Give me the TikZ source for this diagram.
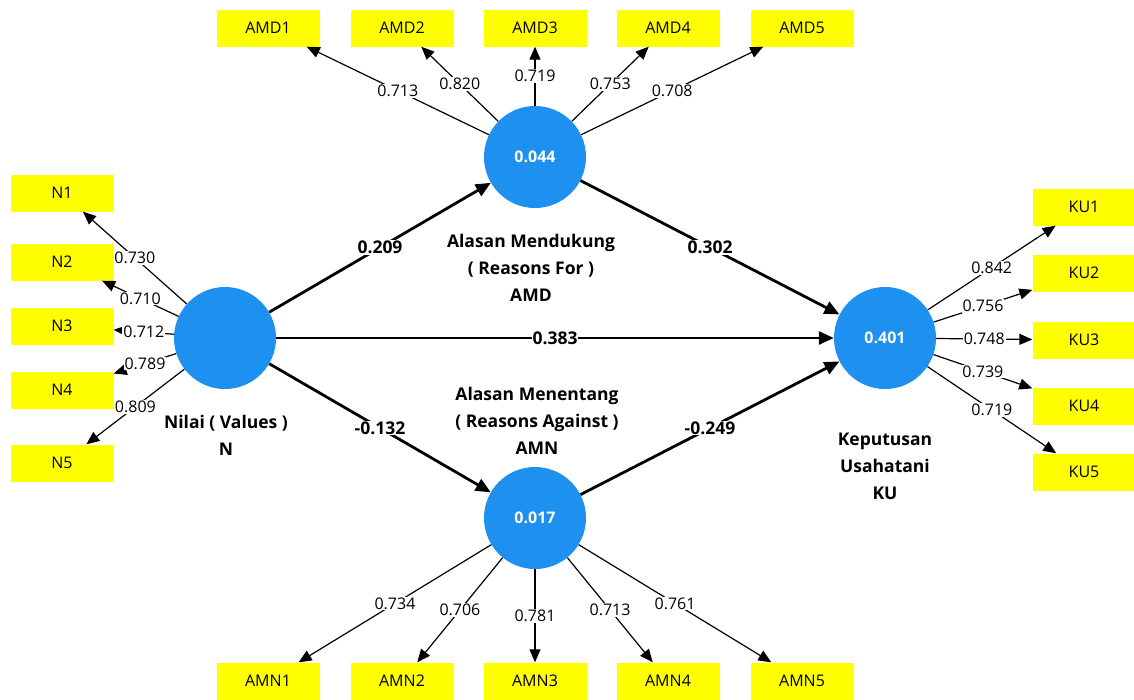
\documentclass[tikz,border=0pt]{standalone}
\usepackage{fontspec}
\setmainfont{Open Sans}
\usetikzlibrary{arrows.meta}
\definecolor{lvblue}{RGB}{30,144,240}
\definecolor{mvyellow}{RGB}{255,255,0}

\begin{document}
\begin{tikzpicture}[x=1pt,y=-1pt,
  lv/.style={circle,fill=lvblue,minimum size=102pt,inner sep=0pt,text=white,font=\bfseries\fontsize{16}{18}\selectfont},
  mv/.style={fill=mvyellow,minimum width=103pt,minimum height=37pt,inner sep=0pt,font=\fontsize{16}{18}\selectfont},
  lvname/.style={align=center,font=\bfseries\fontsize{17.5}{27}\selectfont},
  load/.style={-{Triangle[length=13pt,width=11pt]},line width=1.2pt},
  path/.style={-{Triangle[length=15pt,width=13pt]},line width=2.8pt},
  val/.style={fill=white,inner sep=1pt,font=\fontsize{16}{18}\selectfont},
  coef/.style={fill=white,inner sep=1pt,font=\bfseries\fontsize{17.5}{19}\selectfont}]
\useasboundingbox (0,0) rectangle (1134,699);

% latent variables
\node[lv] (N) at (225,338) {};
\node[lv] (AMD) at (535,157) {0.044};
\node[lv] (AMN) at (535,518) {0.017};
\node[lv] (KU) at (885,338) {0.401};

\node[lvname] (Ntxt) at (226,435) {Nilai ( Values )\\N};
\node[lvname] (AMDtxt) at (531,268) {Alasan Mendukung\\( Reasons For )\\AMD};
\node[lvname] (AMNtxt) at (537,421) {Alasan Menentang\\( Reasons Against )\\AMN};
\node[lvname] (KUtxt) at (885,466) {Keputusan\\Usahatani\\KU};

% indicators
\node[mv] (n1) at (62,193) {N1};
\node[mv] (n2) at (62,262) {N2};
\node[mv] (n3) at (62,326) {N3};
\node[mv] (n4) at (62,390) {N4};
\node[mv] (n5) at (62,463) {N5};

\node[mv] (amd1) at (268,28) {AMD1};
\node[mv] (amd2) at (402,28) {AMD2};
\node[mv] (amd3) at (535,28) {AMD3};
\node[mv] (amd4) at (668,28) {AMD4};
\node[mv] (amd5) at (802,28) {AMD5};

\node[mv] (amn1) at (268,681) {AMN1};
\node[mv] (amn2) at (402,681) {AMN2};
\node[mv] (amn3) at (535,681) {AMN3};
\node[mv] (amn4) at (668,681) {AMN4};
\node[mv] (amn5) at (802,681) {AMN5};

\node[mv] (ku1) at (1084,207) {KU1};
\node[mv] (ku2) at (1084,273) {KU2};
\node[mv] (ku3) at (1084,340) {KU3};
\node[mv] (ku4) at (1084,406) {KU4};
\node[mv] (ku5) at (1084,472) {KU5};

% outer loadings
\draw[load] (N) -- node[val]{0.730} (n1);
\draw[load] (N) -- node[val]{0.710} (n2);
\draw[load] (N) -- node[val]{0.712} (n3);
\draw[load] (N) -- node[val]{0.789} (n4);
\draw[load] (N) -- node[val]{0.809} (n5);

\draw[load] (AMD) -- node[val]{0.713} (amd1);
\draw[load] (AMD) -- node[val]{0.820} (amd2);
\draw[load] (AMD) -- node[val]{0.719} (amd3);
\draw[load] (AMD) -- node[val]{0.753} (amd4);
\draw[load] (AMD) -- node[val]{0.708} (amd5);

\draw[load] (AMN) -- node[val]{0.734} (amn1);
\draw[load] (AMN) -- node[val]{0.706} (amn2);
\draw[load] (AMN) -- node[val]{0.781} (amn3);
\draw[load] (AMN) -- node[val]{0.713} (amn4);
\draw[load] (AMN) -- node[val]{0.761} (amn5);

\draw[load] (KU) -- node[val]{0.842} (ku1);
\draw[load] (KU) -- node[val]{0.756} (ku2);
\draw[load] (KU) -- node[val]{0.748} (ku3);
\draw[load] (KU) -- node[val]{0.739} (ku4);
\draw[load] (KU) -- node[val]{0.719} (ku5);

% path coefficients
\draw[path] (N) -- node[coef]{0.209} (AMD);
\draw[path] (AMD) -- node[coef]{0.302} (KU);
\draw[path] (N) -- node[coef]{0.383} (KU);
\draw[path] (N) -- node[coef]{-0.132} (AMN);
\draw[path] (AMN) -- node[coef]{-0.249} (KU);
\end{tikzpicture}
\end{document}
